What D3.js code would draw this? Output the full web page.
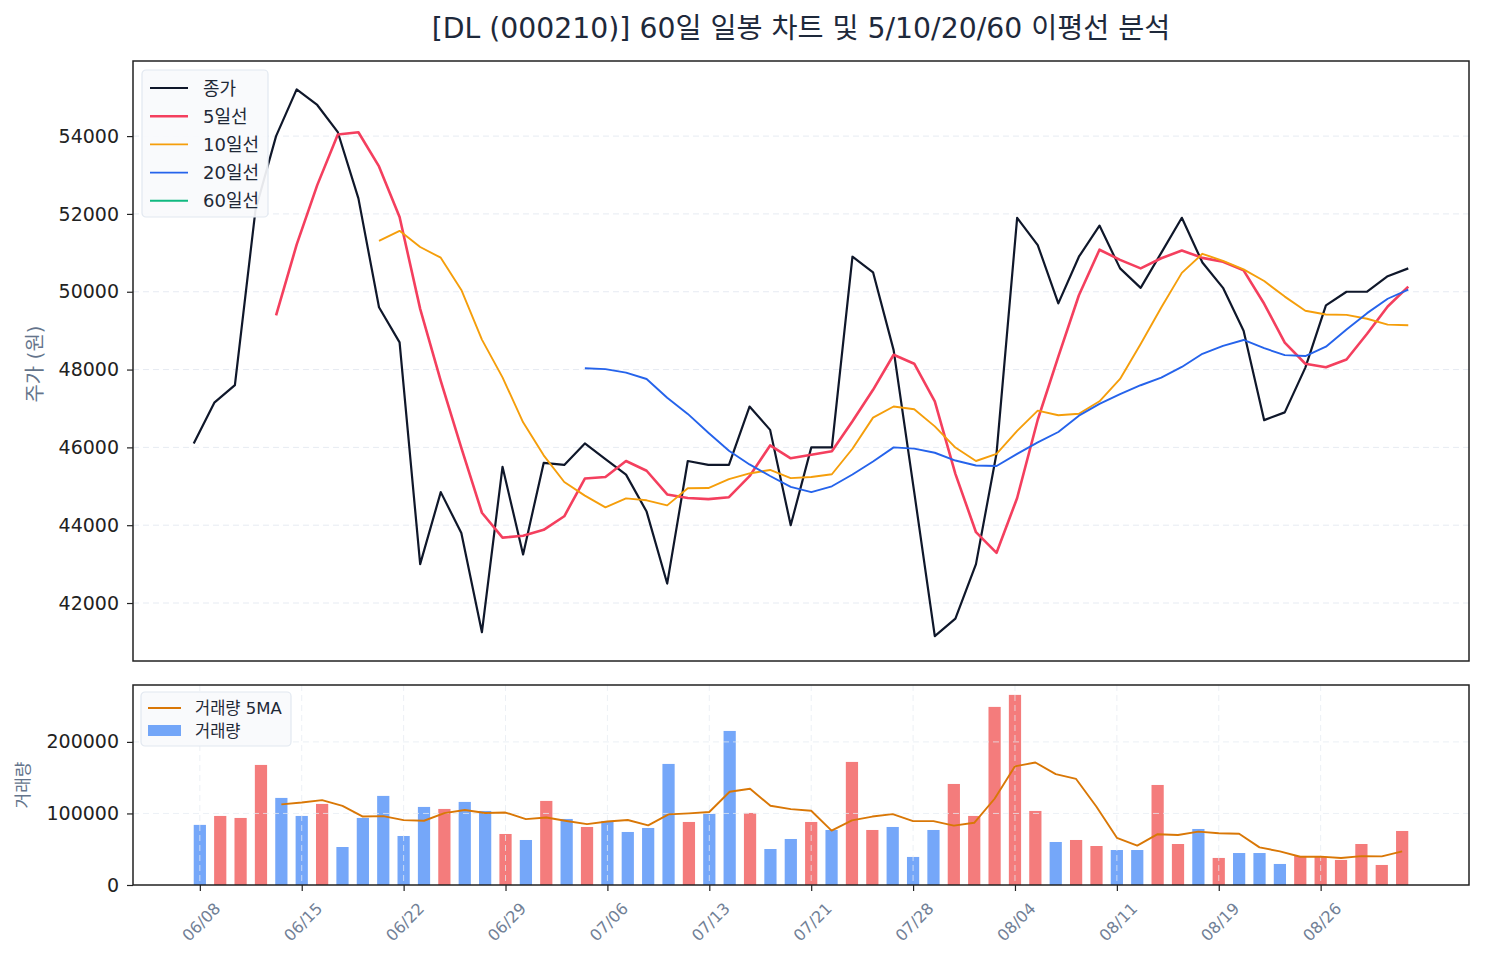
<!DOCTYPE html>
<html>
<head>
<meta charset="utf-8">
<script src="https://cdn.jsdelivr.net/npm/d3@7"></script>
<style>
  html, body { margin: 0; padding: 0; background: #fff; }
  svg { display: block; }
</style>
</head>
<body>
<svg id="chart"></svg>
<script>
// 종가 (60 거래일)
const closes = [
  46100, 47150, 47600, 52100, 54000, 55200, 54800, 54100, 52400, 49600,
  48700, 43000, 44850, 43800, 41250, 45500, 43250, 45600, 45550, 46100,
  45700, 45300, 44350, 42500, 45650, 45550, 45550, 47050, 46450, 44000,
  46000, 46000, 50900, 50500, 48500, 44850, 41150, 41600, 43000, 45850,
  51900, 51200, 49700, 50900, 51700, 50600, 50100, 51000, 51900, 50750,
  50100, 49000, 46700, 46900, 48050, 49650, 50000, 50000, 50400, 50600
];
// 이동평균선 (그림에서 읽은 값, 앞쪽은 값 없음)
const ma5 = [
  null, null, null, null,
  49390, 51210, 52740, 54040, 54100, 53220, 51920, 49560, 47710, 45990,
  44320, 43680, 43730, 43880, 44230, 45200, 45240, 45650, 45400, 44790,
  44700, 44670, 44720, 45260, 46050, 45720, 45810, 45900, 46670, 47480,
  48380, 48150, 47180, 45320, 43820, 43290, 44700, 46710, 48330, 49910,
  51080, 50820, 50600, 50860, 51060, 50870, 50770, 50550, 49690, 48690,
  48150, 48060, 48260, 48920, 49620, 50130
];
const ma10 = [
  null, null, null, null, null, null, null, null, null,
  51305, 51565, 51150, 50875, 50045, 48770, 47800, 46645, 45795, 45110,
  44760, 44460, 44690, 44640, 44510, 44950, 44955, 45185, 45330, 45420,
  45210, 45240, 45310, 45965, 46765, 47050, 46980, 46540, 45995, 45650,
  45835, 46425, 46945, 46825, 46865, 47185, 47760, 48655, 49595, 50485,
  50975, 50795, 50575, 50275, 49875, 49510, 49415, 49405, 49305, 49155,
  49140
];
const ma20 = [
  null, null, null, null, null, null, null, null, null, null,
  null, null, null, null, null, null, null, null, null,
  48032, 48012, 47920, 47757, 47277, 46860, 46377, 45915, 45562, 45265,
  44985, 44850, 45000, 45302, 45637, 46000, 45967, 45862, 45662, 45535,
  45522, 45832, 46127, 46395, 46815, 47117, 47370, 47597, 47795, 48067,
  48405, 48610, 48760, 48550, 48370, 48347, 48587, 49030, 49450, 49820,
  50057
];
const ma60 = [];  // 60일선: 데이터 부족

// 거래량
const volumes = [
  84000, 96500, 93700, 167800, 121700, 96500, 113300, 53100, 93700, 124500,
  68500, 109100, 106300, 116100, 103500, 71300, 62900, 117500, 92300, 81100,
  89500, 74100, 79700, 169200, 88100, 99300, 215300, 100700, 50300, 64300,
  88100, 76900, 172000, 76900, 81100, 39200, 76900, 141200, 96500, 248900,
  265700, 103500, 60100, 62900, 54500, 48900, 48900, 139800, 57300, 78300,
  37800, 44700, 44700, 29400, 40600, 39200, 35000, 57300, 28000, 75500
];
// 양봉(u) / 음봉(d)
const candleDir = [
  'd','u','u','u','d','d','u','d','d','d',
  'd','d','u','d','d','u','d','u','d','u',
  'd','d','d','d','u','d','d','u','d','d',
  'u','d','u','u','d','d','d','u','u','u',
  'u','u','d','u','u','d','d','u','u','d',
  'u','d','d','d','u','u','u','u','u','u'
];
const volMa5 = [
  null, null, null, null,
  112740, 115240, 118600, 110480, 95660, 96220, 90620, 89780, 100420, 104900,
  100700, 101260, 92020, 94260, 89500, 85020, 88660, 90900, 83340, 98720,
  100120, 102080, 130320, 134520, 110740, 105980, 103740, 76060, 90320, 95640,
  99000, 89220, 89220, 83060, 86980, 120540, 165840, 171160, 154940, 148220,
  109340, 65980, 55060, 71000, 69880, 74640, 72420, 71580, 52560, 46980,
  39440, 39720, 37780, 40300, 40020, 47000
];

const tickIdx = [0, 5, 10, 15, 20, 25, 30, 35, 40, 45, 50, 55];
const tickLabels = ['06/08', '06/15', '06/22', '06/29', '07/06', '07/13',
                    '07/21', '07/28', '08/04', '08/11', '08/19', '08/26'];
const priceTicks = [42000, 44000, 46000, 48000, 50000, 52000, 54000];
const volTicks = [0, 100000, 200000];

const title = '[DL (000210)] 60일 일봉 차트 및 5/10/20/60 이평선 분석';

const W = 1485, H = 959;
// 라틴 문자는 DejaVu, 한글은 Noto CJK 로 대체
const FONT = '"DejaVu Sans", "Noto Sans CJK KR", sans-serif';
const GRID = '#e6ebf2';

const svg = d3.select('#chart').attr('width', W).attr('height', H)
  .style('font-family', FONT);

const pTop = {x0: 133, x1: 1469, y0: 61, y1: 661};
const pBot = {x0: 133, x1: 1469, y0: 685, y1: 885};
const n = closes.length;

// matplotlib 기본 여백(5%) 재현
const pad = (n - 1) * 0.05;
const xTop = d3.scaleLinear().domain([-pad, n - 1 + pad]).range([pTop.x0, pTop.x1]);
const barW = 0.6;
const bpad = (n - 1 + barW) * 0.05;
const xBot = d3.scaleLinear().domain([-barW / 2 - bpad, n - 1 + barW / 2 + bpad]).range([pBot.x0, pBot.x1]);

const yTop = d3.scaleLinear().domain([40510, 55930]).range([pTop.y1, pTop.y0]);
const yBot = d3.scaleLinear().domain([0, d3.max(volumes) * 1.052]).range([pBot.y1, pBot.y0]);

// 제목
svg.append('text')
  .attr('x', (pTop.x0 + pTop.x1) / 2).attr('y', 38)
  .attr('text-anchor', 'middle')
  .attr('font-size', 28.3).attr('fill', '#1e293b')
  .text(title);

// ---- 가격 차트 ----
const gTop = svg.append('g');
gTop.selectAll('line.grid').data(priceTicks).join('line')
  .attr('x1', pTop.x0).attr('x2', pTop.x1)
  .attr('y1', d => yTop(d)).attr('y2', d => yTop(d))
  .attr('stroke', GRID).attr('stroke-dasharray', '6,4').attr('stroke-width', 1);

gTop.append('defs').append('clipPath').attr('id', 'clipTop')
  .append('rect').attr('x', pTop.x0).attr('y', pTop.y0)
  .attr('width', pTop.x1 - pTop.x0).attr('height', pTop.y1 - pTop.y0);

const series = [
  {name: '종가', data: closes, color: '#0f172a', w: 2.2},
  {name: '5일선', data: ma5, color: '#f43f5e', w: 2.6},
  {name: '10일선', data: ma10, color: '#f59e0b', w: 1.9},
  {name: '20일선', data: ma20, color: '#2563eb', w: 1.9},
  {name: '60일선', data: ma60, color: '#10b981', w: 1.9}
];
const line = d3.line()
  .defined(d => d != null)
  .x((d, i) => xTop(i))
  .y(d => yTop(d));

const linesG = gTop.append('g').attr('clip-path', 'url(#clipTop)');
series.forEach(s => {
  linesG.append('path').datum(s.data)
    .attr('fill', 'none').attr('stroke', s.color)
    .attr('stroke-width', s.w).attr('stroke-linejoin', 'round')
    .attr('d', line);
});

function styleY(g) {
  g.select('.domain').remove();
  g.selectAll('text').attr('font-size', 19).attr('fill', '#222').style('font-family', FONT);
  g.selectAll('line').attr('stroke', '#222').attr('stroke-width', 1.2);
}

gTop.append('g')
  .attr('transform', `translate(${pTop.x0},0)`)
  .call(d3.axisLeft(yTop).tickValues(priceTicks).tickSize(6).tickPadding(8).tickFormat(d3.format('d')))
  .call(styleY);

gTop.append('rect')
  .attr('x', pTop.x0).attr('y', pTop.y0)
  .attr('width', pTop.x1 - pTop.x0).attr('height', pTop.y1 - pTop.y0)
  .attr('fill', 'none').attr('stroke', '#222').attr('stroke-width', 1.5);

svg.append('text')
  .attr('transform', `translate(35,${(pTop.y0 + pTop.y1) / 2 + 3}) rotate(-90)`)
  .attr('text-anchor', 'middle').attr('dominant-baseline', 'central')
  .attr('font-size', 20).attr('fill', '#64748b')
  .text('주가 (원)');

// 범례 (가격)
const lgTop = svg.append('g').attr('transform', 'translate(142,70)');
lgTop.append('rect').attr('width', 126).attr('height', 147).attr('rx', 4)
  .attr('fill', '#f8fafc').attr('fill-opacity', 0.92)
  .attr('stroke', '#e2e8f0').attr('stroke-width', 1.2);
series.forEach((s, i) => {
  const yy = 18 + i * 28.2;
  lgTop.append('line').attr('x1', 8).attr('x2', 46).attr('y1', yy).attr('y2', yy)
    .attr('stroke', s.color).attr('stroke-width', s.w);
  lgTop.append('text').attr('x', 61).attr('y', yy).attr('dominant-baseline', 'central')
    .attr('font-size', 18).attr('fill', '#1f2937').text(s.name);
});

// ---- 거래량 차트 ----
const gBot = svg.append('g');
gBot.selectAll('rect.bar').data(volumes).join('rect')
  .attr('class', 'bar')
  .attr('x', (d, i) => xBot(i - barW / 2))
  .attr('width', (d, i) => xBot(i + barW / 2) - xBot(i - barW / 2))
  .attr('y', d => yBot(d))
  .attr('height', d => yBot(0) - yBot(d))
  .attr('fill', (d, i) => candleDir[i] === 'u' ? '#ef4444' : '#3b82f6')
  .attr('fill-opacity', 0.7);

// 격자 (막대 위)
gBot.selectAll('line.hgrid').data(volTicks.slice(1)).join('line')
  .attr('x1', pBot.x0).attr('x2', pBot.x1)
  .attr('y1', d => yBot(d)).attr('y2', d => yBot(d))
  .attr('stroke', GRID).attr('stroke-opacity', 0.75)
  .attr('stroke-dasharray', '6,4').attr('stroke-width', 1);
gBot.selectAll('line.vgrid').data(tickIdx).join('line')
  .attr('x1', d => xBot(d)).attr('x2', d => xBot(d))
  .attr('y1', pBot.y0).attr('y2', pBot.y1)
  .attr('stroke', GRID).attr('stroke-opacity', 0.75)
  .attr('stroke-dasharray', '6,4').attr('stroke-width', 1);

const volLine = d3.line()
  .defined(d => d != null)
  .x((d, i) => xBot(i))
  .y(d => yBot(d));
gBot.append('path').datum(volMa5)
  .attr('fill', 'none').attr('stroke', '#d97706')
  .attr('stroke-width', 1.9).attr('stroke-linejoin', 'round')
  .attr('d', volLine);

gBot.append('g')
  .attr('transform', `translate(${pBot.x0},0)`)
  .call(d3.axisLeft(yBot).tickValues(volTicks).tickSize(6).tickPadding(8).tickFormat(d3.format('d')))
  .call(styleY);

const xAxis = gBot.append('g')
  .attr('transform', `translate(0,${pBot.y1})`)
  .call(d3.axisBottom(xBot).tickValues(tickIdx).tickSize(6)
    .tickFormat((d, i) => tickLabels[i]))
  .call(g => g.select('.domain').remove())
  .call(g => g.selectAll('line').attr('stroke', '#222').attr('stroke-width', 1.2));
// 45도 회전, 회전된 상자 중심을 눈금에 맞춤
xAxis.selectAll('text')
  .attr('font-size', 16).attr('fill', '#718096').style('font-family', FONT)
  .attr('text-anchor', 'middle').attr('dominant-baseline', 'central')
  .attr('y', 0).attr('dy', 0)
  .attr('transform', 'translate(1,37) rotate(-45)');

gBot.append('rect')
  .attr('x', pBot.x0).attr('y', pBot.y0)
  .attr('width', pBot.x1 - pBot.x0).attr('height', pBot.y1 - pBot.y0)
  .attr('fill', 'none').attr('stroke', '#222').attr('stroke-width', 1.5);

svg.append('text')
  .attr('transform', `translate(23,${(pBot.y0 + pBot.y1) / 2}) rotate(-90)`)
  .attr('text-anchor', 'middle').attr('dominant-baseline', 'central')
  .attr('font-size', 17).attr('fill', '#64748b')
  .text('거래량');

// 범례 (거래량)
const lgBot = svg.append('g').attr('transform', 'translate(141,692)');
lgBot.append('rect').attr('width', 150).attr('height', 54).attr('rx', 4)
  .attr('fill', '#f8fafc').attr('fill-opacity', 0.92)
  .attr('stroke', '#e2e8f0').attr('stroke-width', 1.2);
lgBot.append('line').attr('x1', 7).attr('x2', 40).attr('y1', 16).attr('y2', 16)
  .attr('stroke', '#d97706').attr('stroke-width', 1.9);
lgBot.append('text').attr('x', 54).attr('y', 16).attr('dominant-baseline', 'central')
  .attr('font-size', 16.5).attr('fill', '#1f2937').text('거래량 5MA');
lgBot.append('rect').attr('x', 7).attr('y', 33).attr('width', 33).attr('height', 11)
  .attr('fill', '#3b82f6').attr('fill-opacity', 0.7);
lgBot.append('text').attr('x', 54).attr('y', 39).attr('dominant-baseline', 'central')
  .attr('font-size', 16.5).attr('fill', '#1f2937').text('거래량');
</script>
</body>
</html>
